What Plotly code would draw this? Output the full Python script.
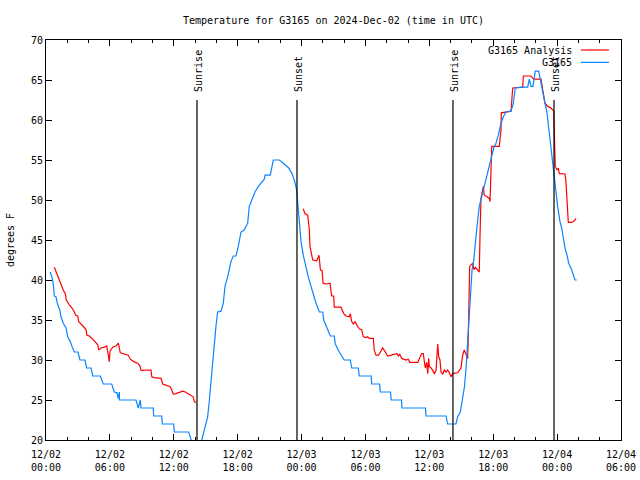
import plotly.graph_objects as go

# Hours since 2024-12-02 00:00 UTC
blue_hours = [0.38, 0.56, 0.69, 0.78, 0.94, 1.10, 1.29, 1.41, 1.62, 1.88, 2.04, 2.28, 2.44, 2.66, 3.00,
              3.19, 3.66, 3.82, 4.23, 4.39, 5.10, 5.38, 6.17, 6.41, 6.67, 6.79, 6.89, 6.90, 8.45, 8.67,
              8.86, 8.92, 10.08, 10.11, 10.87, 10.92, 11.99, 12.05, 13.40, 13.62, 13.80, 14.18, 14.56,
              14.65, 14.87, 15.18, 15.31, 15.50, 15.65, 15.80, 15.96, 16.12, 16.44, 16.65, 16.81, 17.06,
              17.37, 17.59, 17.84, 18.06, 18.31, 18.62, 18.94, 19.09, 19.41, 19.63, 19.94, 20.19, 20.50,
              20.57, 21.06, 21.35, 21.91, 22.38, 22.79, 23.10, 23.32, 23.54, 23.64, 23.79, 23.95, 24.16,
              24.42, 24.63, 24.89, 25.10, 25.36, 25.67, 25.99, 26.08, 26.39, 26.70, 27.07, 27.17, 27.54,
              28.01, 28.58, 28.71, 29.33, 29.42, 30.54, 30.59, 31.33, 31.39, 32.35, 32.42, 33.39, 33.43,
              35.64, 35.69, 37.57, 37.72, 38.50, 38.66, 38.91, 39.13, 39.28, 39.44, 39.60, 39.69, 39.91,
              40.01, 40.17, 40.32, 40.48, 40.69, 40.92, 41.16, 41.48, 41.63, 41.79, 42.05, 42.26, 42.48,
              42.73, 42.95, 43.20, 43.67, 43.89, 44.07, 44.77, 45.24, 45.39, 45.55, 45.74, 45.95, 46.27,
              46.42, 46.65, 46.86, 47.05, 47.27, 47.52, 47.74, 47.90, 48.05, 48.27, 48.43, 48.62, 48.74,
              48.93, 49.09, 49.30, 49.46, 49.68, 49.84]
blue_temp = [41, 40.4, 39.4, 38, 37.9, 36.9, 36.25, 35.4, 34.6, 34, 32.9, 32.3, 31.7, 31, 31,
             30, 30, 29, 29, 28, 28, 27, 27, 26, 25.9, 25.2, 26, 25, 25, 24,
             25, 24, 24, 23, 23, 22, 22, 21, 21, 20.2, 19.3, 18.8, 19.6,
             20.1, 21.2, 22.9, 24.5, 27.5, 30.4, 32.5, 34.2, 36, 36.1, 37.1, 39.2, 40.4,
             42.3, 43, 43, 44.2, 46, 46.25, 47.1, 49.2, 50.2, 51, 51.7, 52.1, 52.6,
             53.1, 53.1, 55, 55, 54.5, 54, 53.3, 52.5, 51.25, 49.5, 46.7, 44.8, 43.1,
             41.4, 40.4, 39.2, 38.1, 37.1, 36, 36, 35, 34, 33, 33, 32, 31,
             30, 30, 29, 29, 28, 28, 27, 27, 26, 26, 25, 25, 24,
             24, 23, 23, 22, 22, 22.9, 23.5, 25, 26.5, 28.75, 32.5, 35.4, 39.2,
             41.25, 42.5, 45, 46.7, 49.2, 50.4, 51.7, 53.3, 54, 55.2, 56.5, 57.1, 58.1,
             59.6, 60.4, 61, 61.1, 62.1, 64, 64.1, 64.1, 65.1, 64.2, 64.2, 66.1, 66.1,
             65, 63.3, 62.1, 60.9, 58.3, 55.8, 53.3, 50.8, 49.2, 47.3, 46.5, 45, 44,
             43.1, 42.1, 41.5, 40.8, 40, 40]

red_hours = [0.78, 1.00, 1.16, 1.41, 1.62, 1.81, 1.91, 2.19, 2.44, 2.66, 2.79, 2.98, 3.07, 3.29, 3.60,
             3.76, 3.85, 4.07, 4.39, 4.63, 4.86, 4.95, 5.17, 5.48, 5.70, 5.85, 5.94, 6.01, 6.26, 6.57,
             6.79, 6.98, 7.35, 7.73, 7.92, 8.24, 8.61, 8.83, 8.92, 9.86, 9.93, 10.17, 10.80, 10.96,
             11.36, 11.65, 11.80, 11.95, 12.21, 12.42, 12.84, 13.08, 13.30, 13.62, 13.83, 13.93, 14.09,
             None,
             24.16, 24.32, 24.58, 24.73, 24.79, 24.95, 25.05, 25.42, 25.57, 25.64, 25.77, 25.93, 26.02,
             26.30, 26.67, 26.77, 26.83, 27.02, 27.07, 27.70, 27.96, 28.17, 28.48, 28.58, 28.71, 28.86,
             29.02, 29.27, 29.42, 29.65, 29.80, 30.05, 30.21, 30.36, 30.74, 30.83, 30.99, 31.24, 31.46,
             31.62, 31.77, 31.93, 32.09, 32.40, 32.71, 32.96, 33.09, 33.22, 33.41, 33.65, 33.81, 34.02,
             34.16, 34.91, 35.10, 35.28, 35.43, 35.53, 35.62, 35.75, 35.85, 35.94, 36.00, 36.16, 36.32,
             36.47, 36.63, 36.79, 36.88, 37.00, 37.10, 37.26, 37.41, 37.57, 37.72, 37.88, 38.03, 38.19,
             38.66, 38.97, 39.13, 39.28, 39.44, 39.60, 39.65, 39.69, 39.79, 40.07, 40.19, 40.32, 40.54,
             40.69, 40.76, 40.85, 41.07, 41.16, 41.42, 41.63, 41.70, 41.79, 41.86, 42.57, 42.73, 42.76,
             43.30, 43.67, 43.83, 44.77, 44.83, 45.55, 45.80, 46.49, 46.65, 46.86, 47.12, 47.43, 47.68,
             47.74, 47.83, 47.99, 48.11, 48.21, 48.74, 48.83, 48.93, 49.05, 49.37, 49.62, 49.78]
red_temp = [41.6, 40.8, 40.2, 39.4, 38.75, 38.3, 37.5, 36.9, 36.5, 36, 35.6, 35.5, 34.8, 34.5, 34.1,
            33.8, 33.1, 33, 32.6, 32.2, 31.9, 31.25, 31.5, 31.6, 31.75, 30.6, 29.8, 31.1, 31.6, 31.75,
            32.1, 30.9, 30.75, 30.6, 30.1, 29.8, 29.6, 29.25, 28.7, 28.75, 27.9, 27.8, 27.7, 27,
            26.8, 26.7, 26.3, 25.75, 25.8, 25.9, 26.1, 26, 25.8, 25.6, 25.4, 24.8, 24.7,
            None,
            48.9, 48.3, 48.1, 46.3, 44.2, 42.9, 42.5, 42.4, 42.9, 43.1, 41.25, 41.2, 39.6,
            39.5, 39.6, 38.75, 38, 38, 36.6, 36.6, 35.8, 35.5, 35.4, 35.8, 34.8, 34.5,
            34.8, 34.2, 33.9, 33.8, 32.9, 32.8, 32.9, 32.7, 32.7, 31.2, 30.6, 30.6, 31.25,
            31.5, 31.2, 30.75, 30.5, 30.6, 30.75, 30.8, 30.5, 30.7, 30.2, 30.1, 30, 30.1,
            29.7, 29.7, 30.2, 30.8, 30.8, 29.8, 29, 29.7, 28.3, 30.2, 29.2, 29, 28.7,
            28.25, 28.75, 32, 30.4, 30, 28.5, 28.2, 28.75, 28.5, 28.75, 28.4, 27.9, 28.3,
            28.4, 29, 30.6, 31.25, 30.8, 30.2, 32.5, 35.8, 41.7, 42.1, 41.3, 41.6, 41.3,
            41, 45.6, 50.2, 51.7, 50.6, 50.4, 50.2, 49.8, 54.2, 56.7, 56.7, 58.75, 60.9,
            61, 61.1, 64, 64.1, 65.5, 65.5, 65.1, 65.1, 63.75, 62.1, 61.7, 61.5, 61.1,
            56.25, 54.2, 53.75, 54, 53.3, 53.25, 52.3, 50.4, 47.2, 47.2, 47.4, 47.7]

sun_events = ["Sunrise", "Sunset", "Sunrise", "Sunset"]
sun_hours = [14.18, 23.57, 38.22, 47.71]

tick_hours = [0, 6, 12, 18, 24, 30, 36, 42, 48, 54]
tick_labels = ["12/02<br>00:00", "12/02<br>06:00", "12/02<br>12:00", "12/02<br>18:00",
               "12/03<br>00:00", "12/03<br>06:00", "12/03<br>12:00", "12/03<br>18:00",
               "12/04<br>00:00", "12/04<br>06:00"]

series_names = ["G3165 Analysis", "G3165"]
series_colors = ["#ff0000", "#0a84ff"]

FONT = dict(family="DejaVu Sans Mono", size=10, color="black")

fig = go.Figure()
fig.add_trace(go.Scatter(x=red_hours, y=red_temp, mode="lines", name=series_names[0],
                         line=dict(color=series_colors[0], width=1.2), connectgaps=False,
                         showlegend=False))
fig.add_trace(go.Scatter(x=blue_hours, y=blue_temp, mode="lines", name=series_names[1],
                         line=dict(color=series_colors[1], width=1.2), showlegend=False))

for name, h in zip(sun_events, sun_hours):
    fig.add_shape(type="line", xref="x", yref="y", x0=h, x1=h, y0=20, y1=62.5,
                  line=dict(color="black", width=1.2))
    fig.add_annotation(x=h, y=62.5, xref="x", yref="y", text=name, textangle=-90,
                       showarrow=False, yanchor="bottom", xanchor="center", yshift=6, xshift=1,
                       font=FONT)

# custom legend (text left of line sample, as in gnuplot)
legend_y = [0.975, 0.944]
for name, col, ly in zip(series_names, series_colors, legend_y):
    fig.add_annotation(x=0.9183, y=ly, xref="paper", yref="paper", text=name,
                       showarrow=False, xanchor="right", yanchor="middle", font=FONT)
    fig.add_shape(type="line", xref="paper", yref="paper", x0=0.930, x1=0.979, y0=ly, y1=ly,
                  line=dict(color=col, width=1.2))

fig.update_layout(
    width=640, height=480,
    margin=dict(l=46, r=19, t=40, b=40),
    paper_bgcolor="white", plot_bgcolor="white",
    font=FONT,
    title=dict(text="Temperature for G3165 on 2024-Dec-02 (time in UTC)", x=0.5, xref="paper",
               y=1 - 20 / 480, yanchor="middle", font=FONT, automargin=False),
    showlegend=False,
)
fig.update_xaxes(range=[0, 54], tickmode="array", tickvals=tick_hours, ticktext=tick_labels,
                 ticks="inside", ticklen=6, tickcolor="black", showgrid=False, zeroline=False,
                 showline=True, linecolor="black", linewidth=1, mirror="ticks", automargin=False,
                 ticklabelstandoff=5,
                 minor=dict(dtick=2, ticks="inside", ticklen=3, tickcolor="black", showgrid=False),
                 tickfont=FONT)
fig.update_yaxes(range=[20, 70], dtick=5, tick0=20, ticks="inside", ticklen=6, tickcolor="black",
                 showgrid=False, zeroline=False, showline=True, linecolor="black", linewidth=1,
                 mirror="ticks", tickfont=FONT, automargin=False,
                 title=dict(text="degrees F", font=FONT, standoff=14))

fig.write_html("out.html")
